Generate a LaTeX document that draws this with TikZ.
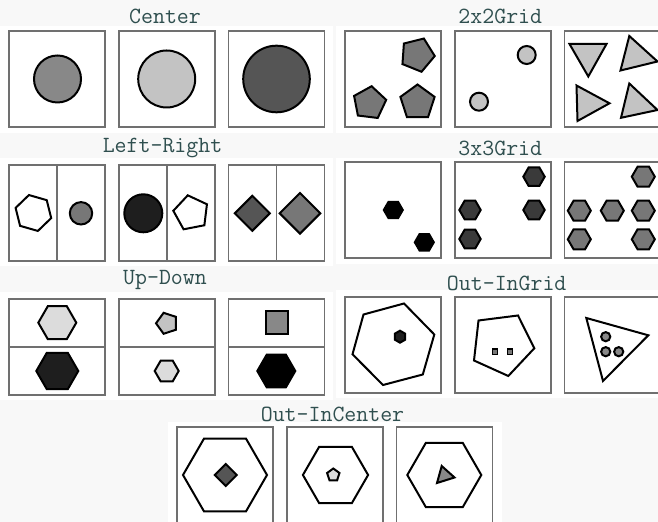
\documentclass[tikz,border=0pt]{standalone}
\usetikzlibrary{shapes.geometric}
\definecolor{titlecol}{HTML}{2F4F4F}
\definecolor{pagebg}{HTML}{F8F8F8}
\definecolor{framegray}{HTML}{707070}
\definecolor{gA}{HTML}{DCDCDC}
\definecolor{gB}{HTML}{C3C3C3}
\definecolor{gC}{HTML}{888888}
\definecolor{gD}{HTML}{777777}
\definecolor{gE}{HTML}{555555}
\definecolor{gF}{HTML}{3A3A3A}
\definecolor{gG}{HTML}{1E1E1E}

\begin{document}
\begin{tikzpicture}[x=0.5pt, y=-0.5pt,
  frame/.style={draw=framegray, line width=0.55pt},
  shp/.style={draw=black, line width=1pt, inner sep=0pt, outer sep=0pt},
  poly/.style={shp, regular polygon, regular polygon sides=#1},
  title/.style={font=\fontsize{11.6}{13}\selectfont\ttfamily, text=titlecol, anchor=base}]
  \useasboundingbox (0,0) rectangle (658,522);
  \fill[pagebg] (0,0) rectangle (658,522);

  % white panel areas behind each group
  \foreach \ax/\ay/\bx/\by in {0/26/333/133, 336/26/658/133, 0/158/333/266, 336/158/658/264,
                               0/292/333/400, 336/290/658/398, 168/422/502/522} {
    \fill[white] (\ax,\ay) rectangle (\bx,\by);
  }

  % frames: 3 boxes per group (96px wide, 110px apart)
  \foreach \gx/\gy in {9/31, 345/31, 9/165, 345/162, 9/299, 345/297, 177/427} {
    \foreach \dx in {0, 110, 219.5} {
      \draw[frame, fill=white] (\gx+\dx, \gy) rectangle ++(96, 96);
    }
  }
  % Left-Right dividers and Up-Down dividers
  \foreach \dx in {0, 110, 219.5} {
    \draw[frame] (9+\dx+48, 165) -- ++(0, 96);
    \draw[frame] (9+\dx, 347) -- ++(96, 0);
  }

  % Titles
  \node[title] (tCenter) at (165, 24) {Center};
  \node[title] (tTwo) at (500.3, 23.5) {2x2Grid};
  \node[title] (tLeftRight) at (162.5, 153) {Left-Right};
  \node[title] (tThree) at (500.3, 156) {3x3Grid};
  \node[title] (tUpDown) at (165, 285) {Up-Down};
  \node[title] (tOutInGrid) at (506.7, 291) {Out-InGrid};
  \node[title] (tOutInCenter) at (332.5, 421.5) {Out-InCenter};

  % Center
  \node[shp, circle, fill=gC, minimum size=23.5pt] (cenA) at (57.5, 79) {};
  \node[shp, circle, fill=gB, minimum size=28.5pt] (cenB) at (166.7, 79) {};
  \node[shp, circle, fill=gE, minimum size=33.3pt] (cenC) at (276.5, 79) {};

  % 2x2Grid
  \node[poly=5, fill=gD, shape border rotate=-22, minimum size=17.5pt] (twoA) at (417.3, 54.8) {};
  \node[poly=5, fill=gD, shape border rotate=-7, minimum size=17pt] (twoB) at (369.5, 103.1) {};
  \node[poly=5, fill=gD, minimum size=18pt] (twoC) at (417.5, 102.5) {};
  \node[shp, circle, fill=gB, minimum size=9pt] (twoD) at (526.7, 55) {};
  \node[shp, circle, fill=gB, minimum size=9pt] (twoE) at (479, 101.7) {};
  \draw[shp, fill=gB] (569.5, 44) -- (606.5, 44) -- (588.3, 76.5) -- cycle;
  \draw[shp, fill=gB] (629.3, 36) -- (657.5, 61.5) -- (620.5, 70.5) -- cycle;
  \draw[shp, fill=gB] (576.5, 85.5) -- (609.5, 103.3) -- (577.5, 121) -- cycle;
  \draw[shp, fill=gB] (629.3, 83.5) -- (657.5, 110) -- (621, 117.8) -- cycle;

  % Left-Right
  \node[poly=6, fill=white, shape border rotate=-16, minimum size=18.5pt] (lrA) at (33.4, 213) {};
  \node[shp, circle, fill=gD, minimum size=11.2pt] (lrB) at (81, 213.3) {};
  \node[shp, circle, fill=gG, minimum size=19pt] (lrC) at (143.3, 213.3) {};
  \node[poly=5, fill=white, shape border rotate=11, minimum size=18pt] (lrD) at (191.2, 213) {};
  \node[shp, diamond, fill=gE, minimum size=17.5pt] (lrE) at (252.3, 213.3) {};
  \node[shp, diamond, fill=gD, minimum size=20.3pt] (lrF) at (300, 213.3) {};

  % 3x3Grid
  \foreach \hx/\hy [count=\k] in {393.3/210, 424.3/242.3}
    \node[poly=6, fill=black, minimum size=9.5pt] (thrA\k) at (\hx, \hy) {};
  \foreach \hx/\hy [count=\k] in {534/176.7, 534/210, 470/210, 470/239}
    \node[poly=6, fill=gF, minimum size=10.7pt] (thrB\k) at (\hx, \hy) {};
  \foreach \hx/\hy [count=\k] in {643.3/176.7, 579.3/210.7, 612.3/210.7, 643.3/210.7, 579.3/239.3, 643.3/239.3}
    \node[poly=6, fill=gD, minimum size=11.5pt] (thrC\k) at (\hx, \hy) {};

  % Up-Down
  \node[poly=6, fill=gA, minimum size=19pt] (udA) at (57.3, 322.7) {};
  \node[poly=6, fill=gG, minimum size=21pt] (udB) at (57.3, 371) {};
  \node[poly=5, fill=gB, shape border rotate=90, minimum size=11pt] (udC) at (167, 323.3) {};
  \node[poly=6, fill=gA, minimum size=12pt] (udD) at (166.7, 371) {};
  \node[shp, rectangle, fill=gC, minimum size=11.2pt] (udE) at (276.7, 322.7) {};
  \node[poly=6, fill=black, minimum size=19pt] (udF) at (276.3, 371) {};

  % Out-InGrid
  \draw[shp, fill=white] (363.5, 314.5) -- (404, 303.5) -- (434.3, 334.5) -- (422.8, 374.5)
    -- (383, 385) -- (352.5, 354.3) -- cycle;
  \node[poly=6, fill=gG, shape border rotate=30, minimum size=6pt] (oigA) at (400, 336.7) {};
  \draw[shp, fill=white] (478.5, 320.5) -- (518, 315.5) -- (534.3, 348.3) -- (508.3, 376)
    -- (474, 360.5) -- cycle;
  \node[shp, rectangle, line width=0.7pt, fill=gD, minimum size=2.6pt] (oigB) at (495, 351.7) {};
  \node[shp, rectangle, line width=0.7pt, fill=gD, minimum size=2.6pt] (oigC) at (510, 351.7) {};
  \draw[shp, fill=white] (586.3, 318) -- (648.3, 335.3) -- (603, 381) -- cycle;
  \foreach \cx/\cy [count=\k] in {605.7/336.7, 605.7/351.7, 618.7/351.7}
    \node[shp, circle, fill=gC, minimum size=4.6pt] (oigD\k) at (\cx, \cy) {};

  % Out-InCenter
  \node[poly=6, fill=white, minimum size=42pt] (oicA) at (225, 475) {};
  \node[shp, diamond, fill=gE, minimum size=11pt] (oicB) at (225.7, 475) {};
  \node[poly=6, fill=white, minimum size=32.6pt] (oicC) at (335.5, 475) {};
  \node[poly=5, fill=gA, minimum size=6.5pt] (oicD) at (333.3, 475) {};
  \node[poly=6, fill=white, minimum size=37pt] (oicE) at (444.3, 475) {};
  \draw[shp, fill=gC] (441.7, 466) -- (454.5, 477.5) -- (437, 483) -- cycle;
\end{tikzpicture}
\end{document}
